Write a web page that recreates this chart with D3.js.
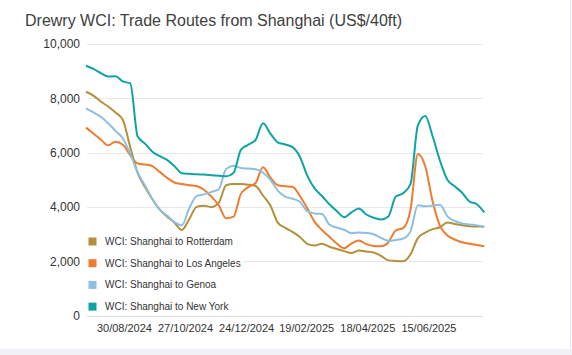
<!DOCTYPE html>
<html>
<head>
<meta charset="utf-8">
<script src="https://cdn.jsdelivr.net/npm/d3@7"></script>
<style>
  body { margin: 0; background: #fff; }
  svg { display: block; font-family: Arial, "Liberation Sans", sans-serif; }
</style>
</head>
<body>
<svg id="chart" width="572" height="355"></svg>
<script>
// weekly WCI dates (Thursdays)
const dates = [
  "2024-07-25","2024-08-01","2024-08-08","2024-08-15","2024-08-22","2024-08-29",
  "2024-09-05","2024-09-12","2024-09-19","2024-09-26","2024-10-03","2024-10-10",
  "2024-10-17","2024-10-24","2024-10-31","2024-11-07","2024-11-14","2024-11-21",
  "2024-11-28","2024-12-05","2024-12-12","2024-12-19","2024-12-26","2025-01-02",
  "2025-01-09","2025-01-16","2025-01-23","2025-01-30","2025-02-06","2025-02-13",
  "2025-02-20","2025-02-27","2025-03-06","2025-03-13","2025-03-20","2025-03-27",
  "2025-04-03","2025-04-10","2025-04-17","2025-04-24","2025-05-01","2025-05-08",
  "2025-05-15","2025-05-22","2025-05-29","2025-06-05","2025-06-12","2025-06-19",
  "2025-06-26","2025-07-03","2025-07-10","2025-07-17","2025-07-24","2025-07-31",
  "2025-08-07"
];

const rotterdam = [8240, 8100, 7880, 7700, 7480, 7200, 6200, 5250, 4730, 4280,
  3900, 3640, 3420, 3150, 3550, 4000, 4040, 4000, 4150, 4800,
  4840, 4840, 4820, 4770, 4420, 4050, 3420, 3230, 3080, 2890,
  2640, 2580, 2640, 2530, 2450, 2370, 2300, 2390, 2360, 2320,
  2200, 2030, 2010, 2000, 2250, 2850, 3050, 3180, 3250, 3430,
  3370, 3320, 3290, 3280, 3270];

const losAngeles = [6920, 6700, 6480, 6270, 6400, 6290, 5900, 5600, 5560, 5500,
  5290, 5070, 4900, 4840, 4800, 4770, 4630, 4380, 4060, 3580,
  3640, 4480, 4730, 4880, 5460, 5080, 4800, 4760, 4740, 4400,
  3950, 3450, 3150, 2900, 2650, 2480, 2650, 2760, 2630, 2560,
  2550, 2700, 3130, 3220, 3900, 5950, 5500, 4200, 3300, 2950,
  2800, 2700, 2640, 2600, 2550];

const genoa = [7630, 7480, 7320, 7080, 6800, 6520, 5950, 5270, 4790, 4290,
  3900, 3680, 3440, 3320, 3950, 4400, 4460, 4550, 4650, 5400,
  5520, 5430, 5410, 5390, 5260, 5000, 4600, 4380, 4300, 4190,
  3840, 3760, 3740, 3350, 3240, 3160, 3030, 3060, 3040, 2990,
  2860, 2750, 2780, 2830, 3100, 4060, 4020, 4050, 4080, 3650,
  3480, 3390, 3350, 3320, 3260];

const newYork = [9200, 9080, 8930, 8800, 8810, 8620, 8550, 6600, 6330, 6030,
  5870, 5730, 5500, 5240, 5220, 5200, 5190, 5170, 5150, 5130,
  5250, 6100, 6290, 6470, 7080, 6700, 6380, 6300, 6200, 5850,
  5150, 4680, 4400, 4100, 3850, 3620, 3800, 3940, 3720, 3600,
  3540, 3650, 4380, 4500, 4850, 7000, 7350, 6600, 5700, 5000,
  4760, 4520, 4200, 4100, 3800];

const seriesNames = ["WCI: Shanghai to Rotterdam", "WCI: Shanghai to Los Angeles",
  "WCI: Shanghai to Genoa", "WCI: Shanghai to New York"];
const colors = ["#b3903a", "#ee7b30", "#8dbfe0", "#10a3a3"];
const yTicks = [0, 2000, 4000, 6000, 8000, 10000];
const xTickLabels = ["2024-08-30", "2024-10-27", "2024-12-24", "2025-02-19", "2025-04-18", "2025-06-15"];

const parse = d3.timeParse("%Y-%m-%d");
const xDates = dates.map(parse);
const allSeries = [rotterdam, losAngeles, genoa, newYork];

const svg = d3.select("#chart");
const W = 572, H = 355;

// frame edges like the screenshot
svg.append("rect").attr("x", 0).attr("y", 349).attr("width", W).attr("height", 6).attr("fill", "#f2f2f6");
svg.append("line").attr("x1", 570.5).attr("x2", 570.5).attr("y1", 0).attr("y2", 349)
  .attr("stroke", "#e6e6ec");

const x = d3.scaleTime()
  .domain(d3.extent(xDates))
  .range([86, 484.25]);

const y = d3.scaleLinear()
  .domain([0, 10000])
  .range([315.5, 44]);

// title
svg.append("text")
  .attr("x", 25).attr("y", 26)
  .attr("font-size", 16)
  .attr("fill", "#404040")
  .text("Drewry WCI: Trade Routes from Shanghai (US$/40ft)");

// gridlines
svg.append("g")
  .selectAll("line")
  .data(yTicks)
  .join("line")
  .attr("x1", 87).attr("x2", 483)
  .attr("y1", d => Math.round(y(d)) + 0.5)
  .attr("y2", d => Math.round(y(d)) + 0.5)
  .attr("stroke", d => d === 0 ? "#dcdcdc" : "#e8e8e8");

// y axis
const yAxis = svg.append("g")
  .attr("transform", "translate(86,0)")
  .call(d3.axisLeft(y).tickValues(yTicks).tickFormat(d3.format(",")).tickSize(0).tickPadding(6));
yAxis.select(".domain").remove();
yAxis.selectAll("text").attr("font-size", 12).attr("fill", "#333").attr("font-family", null);

// x axis
const xAxis = svg.append("g")
  .attr("transform", "translate(0,315.5)")
  .call(d3.axisBottom(x).tickValues(xTickLabels.map(parse))
    .tickFormat(d3.timeFormat("%d/%m/%Y")).tickSize(0).tickPadding(9));
xAxis.select(".domain").remove();
xAxis.selectAll("text").attr("font-size", 11).attr("fill", "#333").attr("font-family", null);

// lines
const line = d3.line()
  .x((d, i) => x(xDates[i]))
  .y(d => y(d))
  .curve(d3.curveMonotoneX);

svg.append("g")
  .selectAll("path")
  .data(allSeries)
  .join("path")
  .attr("d", d => line(d))
  .attr("fill", "none")
  .attr("stroke", (d, i) => colors[i])
  .attr("stroke-width", 2)
  .attr("stroke-linejoin", "round");

// legend
const legend = svg.append("g");
legend.append("rect")
  .attr("x", 85).attr("y", 231)
  .attr("width", 158).attr("height", 83)
  .attr("fill", "#fff");

const item = legend.selectAll("g.item")
  .data(seriesNames)
  .join("g")
  .attr("class", "item")
  .attr("transform", (d, i) => `translate(88.5,${241.5 + i * 21.7})`);

item.append("rect")
  .attr("x", 0).attr("y", -4)
  .attr("width", 8).attr("height", 8)
  .attr("fill", (d, i) => colors[i]);

item.append("text")
  .attr("x", 16.5).attr("dy", "0.35em")
  .attr("font-size", 10)
  .attr("fill", "#333")
  .text(d => d);
</script>
</body>
</html>
